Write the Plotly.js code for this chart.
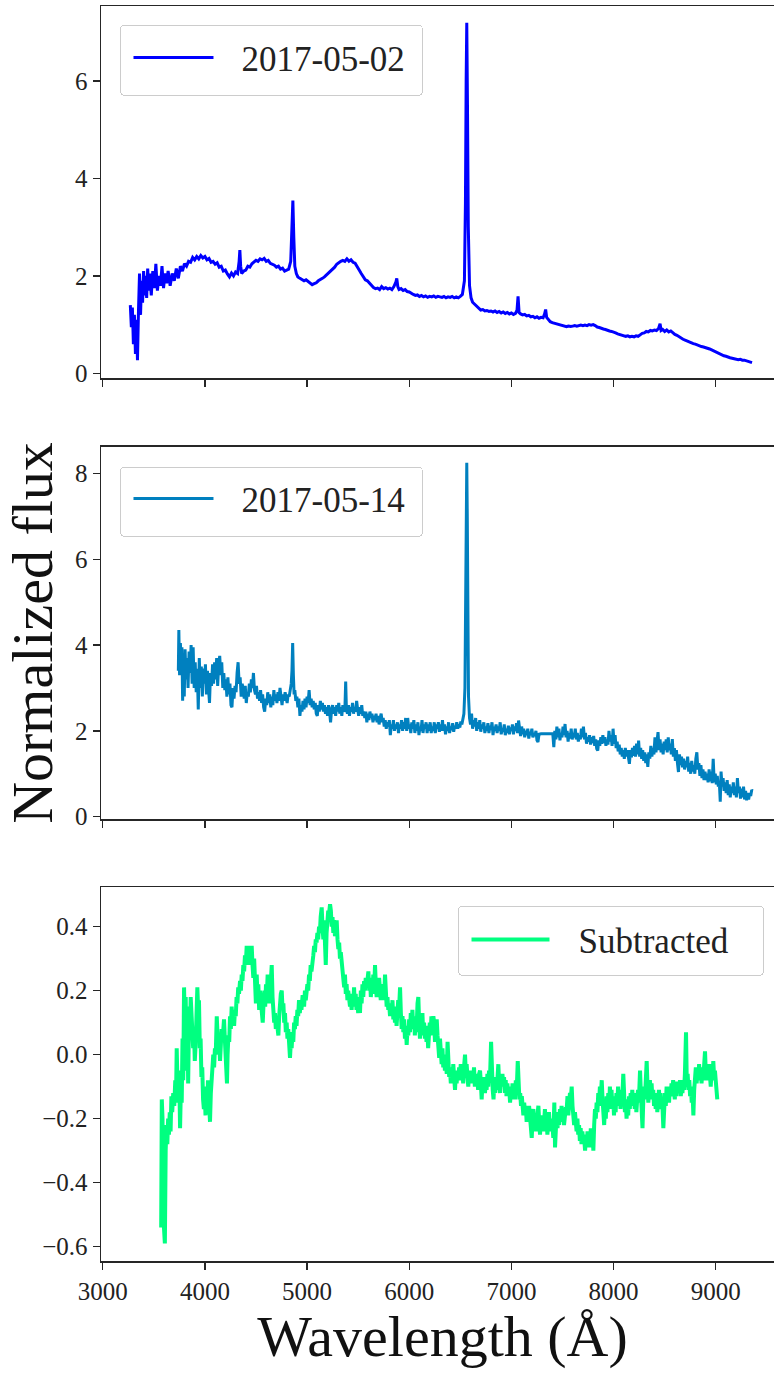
<!DOCTYPE html>
<html>
<head>
<meta charset="utf-8">
<script src="https://cdn.plot.ly/plotly-3.0.1.min.js"></script>
<style>
html,body{margin:0;padding:0;background:#fff;width:774px;height:1373px;overflow:hidden;}
#chart{width:784px;height:1373px;}
</style>
</head>
<body>
<div id="chart"></div>
<script>
// ---------- Data ----------
var seriesNames = ["2017-05-02", "2017-05-14", "Subtracted"];

// Spectrum 2017-05-02 : wavelength (Angstrom) / normalized flux
var wave1 = [3270,3280,3290,3300,3310,3320,3330,3340,3350,3360,3370,3380,3390,3400,3410,3420,3430,3440,3450,3460,3475,3490,3505,3520,3535,3550,3565,3580,3595,3610,3625,3640,3660,3680,3700,3720,3740,3760,3780,3800,3820,3840,3860,3880,3900,3920,3940,3960,3980,4000,4020,4040,4060,4080,4100,4120,4140,4160,4180,4200,4220,4240,4260,4280,4300,4320,4335,4342,4350,4360,4380,4400,4420,4440,4460,4480,4500,4520,4540,4560,4580,4600,4620,4640,4660,4680,4700,4720,4740,4760,4780,4800,4820,4840,4852,4861,4870,4880,4895,4910,4930,4950,4970,4990,5010,5030,5050,5070,5090,5110,5130,5150,5170,5190,5210,5230,5250,5270,5290,5310,5330,5350,5370,5390,5410,5430,5450,5470,5490,5510,5530,5550,5570,5590,5610,5630,5650,5670,5690,5710,5730,5750,5770,5790,5810,5830,5850,5870,5878,5888,5900,5920,5940,5960,5980,6000,6020,6040,6060,6080,6100,6120,6140,6160,6180,6200,6220,6240,6260,6280,6300,6320,6340,6360,6380,6400,6420,6440,6460,6480,6500,6520,6540,6550,6557,6563,6570,6578,6590,6605,6620,6640,6660,6680,6700,6720,6740,6760,6780,6800,6820,6840,6860,6880,6900,6920,6940,6960,6980,7000,7020,7040,7055,7065,7075,7090,7110,7130,7150,7170,7190,7210,7230,7250,7270,7290,7310,7325,7335,7345,7360,7380,7400,7420,7440,7460,7480,7500,7520,7540,7560,7580,7600,7620,7640,7660,7680,7700,7720,7740,7760,7780,7800,7820,7840,7860,7880,7900,7920,7940,7960,7980,8000,8020,8040,8060,8080,8100,8120,8140,8160,8180,8200,8220,8240,8260,8280,8300,8320,8340,8360,8380,8400,8420,8440,8455,8465,8480,8500,8520,8540,8560,8580,8600,8620,8640,8660,8680,8700,8720,8740,8760,8780,8800,8820,8840,8860,8880,8900,8920,8940,8960,8980,9000,9020,9040,9060,9080,9100,9120,9140,9160,9180,9200,9220,9240,9260,9280,9300,9320,9340,9355];
var flux1 = [1.40,0.95,1.35,0.60,1.20,0.40,1.10,0.27,1.30,2.05,1.20,1.90,1.45,2.10,1.60,2.00,1.55,2.15,1.70,2.05,1.60,2.10,1.75,2.25,1.70,2.00,1.80,2.20,1.75,2.05,1.85,2.10,1.80,2.05,1.90,2.15,1.95,2.20,2.10,2.25,2.20,2.30,2.28,2.38,2.33,2.40,2.35,2.42,2.37,2.40,2.33,2.36,2.28,2.30,2.24,2.27,2.18,2.20,2.10,2.12,2.04,1.98,2.06,2.00,2.08,2.05,2.30,2.53,2.20,2.05,2.10,2.12,2.20,2.18,2.25,2.28,2.32,2.30,2.35,2.33,2.36,2.30,2.32,2.26,2.24,2.22,2.18,2.20,2.14,2.16,2.10,2.12,2.14,2.30,2.90,3.55,2.80,2.20,2.05,1.98,1.95,1.93,1.90,1.92,1.88,1.86,1.82,1.84,1.86,1.90,1.92,1.95,1.98,2.02,2.05,2.08,2.12,2.18,2.24,2.28,2.30,2.32,2.30,2.35,2.30,2.33,2.28,2.26,2.20,2.12,2.05,1.98,1.92,1.90,1.85,1.80,1.76,1.74,1.75,1.72,1.78,1.74,1.76,1.73,1.75,1.72,1.78,1.88,1.95,1.78,1.72,1.74,1.70,1.72,1.68,1.67,1.64,1.62,1.60,1.61,1.58,1.60,1.57,1.59,1.56,1.58,1.57,1.59,1.56,1.58,1.57,1.56,1.58,1.55,1.57,1.56,1.58,1.55,1.57,1.55,1.58,1.62,1.90,3.50,6.00,7.20,5.50,3.00,1.80,1.55,1.46,1.42,1.38,1.32,1.30,1.31,1.28,1.29,1.27,1.28,1.26,1.28,1.25,1.27,1.24,1.26,1.23,1.25,1.22,1.24,1.21,1.23,1.30,1.58,1.25,1.22,1.20,1.21,1.18,1.19,1.16,1.17,1.14,1.16,1.13,1.15,1.14,1.22,1.31,1.15,1.10,1.06,1.04,1.03,1.02,1.00,0.99,0.98,0.98,0.96,0.97,0.96,0.97,0.98,0.97,0.98,0.99,0.98,0.99,0.98,1.00,0.99,1.00,0.98,0.95,0.94,0.92,0.91,0.90,0.88,0.87,0.86,0.85,0.83,0.81,0.80,0.78,0.78,0.76,0.77,0.75,0.76,0.75,0.77,0.76,0.79,0.82,0.83,0.86,0.85,0.88,0.87,0.89,0.88,0.92,1.02,0.88,0.90,0.86,0.89,0.85,0.87,0.83,0.80,0.78,0.75,0.72,0.70,0.68,0.66,0.65,0.63,0.61,0.60,0.58,0.57,0.55,0.54,0.53,0.52,0.50,0.48,0.46,0.44,0.41,0.40,0.38,0.36,0.35,0.33,0.32,0.31,0.30,0.30,0.28,0.29,0.27,0.27,0.26,0.25,0.24,0.22];

// Spectrum 2017-05-14
var wave2 = [3740,3745,3752,3760,3768,3775,3782,3790,3798,3806,3815,3825,3835,3845,3855,3865,3875,3885,3895,3905,3915,3925,3935,3945,3955,3965,3975,3985,3995,4005,4015,4025,4035,4045,4055,4065,4075,4085,4095,4105,4115,4125,4135,4145,4155,4165,4175,4185,4195,4205,4215,4225,4235,4245,4255,4265,4275,4285,4295,4305,4315,4325,4335,4345,4355,4365,4375,4385,4395,4405,4415,4425,4435,4445,4455,4465,4475,4485,4495,4505,4515,4525,4535,4545,4555,4565,4575,4585,4595,4605,4615,4625,4635,4645,4655,4665,4675,4685,4695,4705,4715,4725,4735,4745,4755,4765,4775,4785,4795,4805,4815,4825,4835,4845,4852,4859,4866,4873,4880,4890,4900,4910,4920,4930,4940,4950,4960,4970,4980,4990,5000,5010,5020,5030,5040,5050,5060,5070,5080,5090,5100,5110,5120,5130,5140,5150,5160,5170,5180,5190,5200,5210,5220,5230,5240,5250,5260,5270,5280,5290,5300,5310,5320,5330,5340,5350,5360,5370,5378,5385,5395,5405,5415,5425,5435,5445,5455,5465,5475,5485,5495,5505,5515,5525,5535,5545,5555,5565,5575,5585,5595,5605,5615,5625,5635,5645,5655,5665,5675,5685,5695,5705,5715,5725,5735,5745,5755,5765,5775,5785,5795,5805,5815,5825,5835,5845,5855,5865,5875,5885,5895,5905,5915,5925,5935,5945,5955,5965,5975,5985,5995,6005,6015,6025,6035,6045,6055,6065,6075,6085,6095,6105,6115,6125,6135,6145,6155,6165,6175,6185,6195,6205,6215,6225,6235,6245,6255,6265,6275,6285,6295,6305,6315,6325,6335,6345,6355,6365,6375,6385,6395,6405,6415,6425,6435,6445,6455,6465,6475,6485,6495,6505,6515,6525,6535,6545,6552,6558,6563,6568,6574,6580,6590,6600,6610,6620,6630,6640,6650,6660,6670,6680,6690,6700,6710,6720,6730,6740,6750,6760,6770,6780,6790,6800,6810,6820,6830,6840,6850,6860,6870,6880,6890,6900,6910,6920,6930,6940,6950,6960,6970,6980,6990,7000,7010,7020,7030,7040,7050,7060,7070,7080,7090,7100,7110,7120,7130,7140,7150,7160,7170,7180,7190,7200,7210,7220,7230,7240,7250,7260,7270,7290,7320,7350,7380,7405,7415,7425,7435,7445,7455,7465,7475,7485,7495,7505,7515,7525,7535,7545,7555,7565,7575,7585,7595,7605,7615,7625,7635,7645,7655,7665,7675,7685,7695,7705,7715,7725,7735,7745,7755,7765,7775,7785,7795,7805,7815,7825,7835,7845,7855,7865,7875,7885,7895,7905,7915,7925,7935,7945,7955,7965,7975,7985,7995,8005,8015,8025,8035,8045,8055,8065,8075,8085,8095,8105,8115,8125,8135,8145,8155,8165,8175,8185,8195,8205,8215,8225,8235,8245,8255,8265,8275,8285,8295,8305,8315,8325,8335,8345,8355,8365,8375,8385,8395,8405,8415,8425,8435,8445,8455,8465,8475,8485,8495,8505,8515,8525,8535,8545,8555,8565,8575,8585,8595,8605,8615,8625,8635,8645,8655,8665,8675,8685,8695,8705,8715,8725,8735,8745,8755,8765,8775,8785,8795,8805,8815,8825,8835,8845,8855,8865,8875,8885,8895,8905,8915,8925,8935,8945,8955,8965,8975,8985,8995,9005,9015,9025,9035,9044,9052,9062,9072,9082,9092,9102,9112,9122,9132,9142,9152,9162,9172,9182,9192,9202,9212,9222,9232,9242,9252,9262,9272,9282,9292,9302,9312,9322,9332,9342,9352,9360];
var flux2 = [3.40,4.35,3.30,4.05,3.55,3.95,2.70,3.60,2.80,3.90,3.20,3.70,3.00,3.85,3.35,4.00,3.10,3.95,3.00,3.60,2.90,3.45,2.50,3.70,3.00,3.50,2.80,3.45,3.10,3.55,2.85,3.40,3.00,2.65,3.35,3.05,3.55,3.10,3.60,3.20,3.70,3.05,3.55,3.75,3.30,3.60,3.00,3.35,2.95,3.20,2.80,3.25,2.85,3.10,2.60,2.55,3.00,2.75,3.05,2.90,3.35,3.60,3.10,3.25,2.80,3.10,2.95,2.75,3.05,2.65,2.90,2.80,3.10,2.90,3.20,3.00,3.35,2.95,2.85,3.05,2.75,2.90,2.70,2.95,2.65,2.85,2.55,2.45,2.75,2.60,2.90,2.65,2.85,2.55,2.80,2.60,2.95,2.70,2.85,2.65,2.90,2.70,3.00,2.75,2.60,2.85,2.70,2.90,2.75,2.65,2.85,2.80,2.95,3.10,3.40,4.05,3.30,2.85,2.95,2.70,2.80,2.55,2.75,2.35,2.60,2.45,2.70,2.50,2.75,2.55,2.80,2.65,2.95,2.60,2.75,2.55,2.70,2.50,2.65,2.40,2.35,2.60,2.45,2.70,2.50,2.65,2.45,2.60,2.40,2.55,2.35,2.60,2.45,2.20,2.50,2.60,2.40,2.55,2.35,2.60,2.45,2.65,2.40,2.55,2.35,2.60,2.45,2.50,3.15,2.50,2.40,2.60,2.35,2.55,2.45,2.65,2.40,2.55,2.45,2.70,2.50,2.35,2.55,2.40,2.60,2.35,2.45,2.30,2.45,2.20,2.40,2.25,2.45,2.30,2.40,2.20,2.35,2.25,2.40,2.20,2.35,2.15,2.30,2.40,2.20,2.30,2.10,2.25,2.05,2.20,2.10,2.25,1.90,2.15,2.05,2.25,2.00,2.15,2.05,2.20,1.95,2.15,2.05,2.25,2.00,2.20,2.05,2.30,2.00,2.30,2.05,2.15,1.95,2.20,2.05,2.25,1.95,2.15,2.00,2.20,1.90,2.10,2.00,2.25,1.95,2.15,2.05,2.20,1.95,2.15,2.00,2.20,1.95,2.10,2.00,2.20,1.95,2.15,2.05,2.20,1.98,2.15,2.00,2.25,2.00,2.15,1.92,2.10,2.00,2.20,1.95,2.10,2.02,2.18,1.98,2.12,2.05,2.20,2.05,2.15,2.08,2.22,2.15,2.25,2.40,3.00,5.00,7.50,8.25,7.00,4.50,2.80,2.30,2.15,2.40,2.05,2.25,2.10,2.30,2.00,2.20,2.05,2.25,1.98,2.15,2.05,2.20,1.95,2.10,2.00,2.18,1.95,2.12,2.02,2.20,1.90,2.10,2.00,2.15,1.95,2.10,2.00,2.20,1.92,2.05,1.98,2.15,1.90,2.05,1.95,2.12,1.92,2.08,2.00,2.15,1.92,2.10,2.00,2.18,1.95,2.24,2.05,1.88,2.10,1.92,2.05,1.85,2.00,1.90,2.05,1.82,1.98,1.90,2.05,1.85,1.95,1.88,2.00,1.78,1.74,1.92,1.93,1.93,1.93,1.93,1.93,1.62,2.00,1.80,2.10,1.85,2.05,1.78,1.95,1.85,2.10,1.90,2.16,1.85,2.00,1.75,1.95,1.82,2.05,1.80,1.95,1.85,2.05,1.80,1.95,1.75,1.90,1.80,2.05,1.85,2.10,1.80,1.95,1.70,1.85,1.75,1.90,1.68,1.85,1.72,1.88,1.65,1.80,1.58,1.54,1.78,1.65,1.85,1.70,1.90,1.72,1.85,1.65,1.80,1.68,2.00,1.75,1.90,1.65,2.05,1.70,1.90,1.60,1.75,1.52,1.68,1.45,1.60,1.40,1.55,1.35,1.60,1.40,1.55,1.30,1.23,1.55,1.38,1.60,1.42,1.65,1.40,1.70,1.45,1.77,1.40,1.60,1.35,1.55,1.30,1.50,1.25,1.45,1.16,1.50,1.35,1.65,1.40,1.60,1.45,1.85,1.50,1.75,1.97,1.55,1.80,1.50,1.70,1.45,1.75,1.55,1.80,1.50,1.85,1.55,1.70,1.45,1.81,1.40,1.60,1.30,1.55,1.25,1.04,1.45,1.20,1.40,1.15,1.35,1.10,1.30,1.15,1.40,1.05,1.25,1.00,1.30,1.05,1.20,1.00,1.35,1.50,1.10,1.25,0.95,1.20,0.90,1.10,0.85,1.05,0.85,1.00,0.80,1.10,0.82,1.05,0.78,1.35,0.80,1.00,0.75,0.95,0.70,0.80,0.35,1.05,0.70,0.90,0.60,0.80,0.55,0.85,0.50,0.75,0.45,0.70,0.55,0.80,0.50,0.70,0.45,0.90,0.55,0.70,0.42,0.65,0.45,0.70,0.40,0.60,0.38,0.55,0.40,0.55,0.48,0.62,0.60];

// Subtracted spectrum
var wave3 = [3572,3578,3585,3592,3600,3608,3616,3624,3632,3640,3648,3656,3664,3672,3680,3690,3700,3710,3718,3724,3732,3740,3748,3757,3765,3773,3781,3788,3796,3804,3812,3820,3828,3836,3845,3853,3861,3869,3877,3885,3893,3901,3909,3917,3926,3934,3942,3950,3958,3966,3974,3982,3990,3998,4006,4014,4022,4030,4040,4050,4058,4066,4074,4082,4090,4098,4106,4116,4124,4132,4140,4148,4156,4164,4172,4180,4187,4195,4203,4210,4216,4222,4230,4238,4246,4254,4262,4270,4278,4286,4294,4302,4310,4318,4326,4334,4344,4352,4360,4368,4376,4384,4392,4400,4409,4417,4425,4433,4441,4449,4458,4466,4474,4482,4491,4499,4507,4515,4523,4531,4539,4547,4555,4566,4574,4582,4590,4598,4606,4614,4622,4630,4638,4646,4654,4662,4670,4678,4686,4694,4702,4710,4719,4727,4735,4743,4752,4760,4768,4776,4784,4792,4800,4808,4816,4824,4833,4841,4849,4857,4865,4873,4881,4889,4897,4905,4913,4921,4929,4937,4945,4955,4963,4971,4979,4987,4995,5003,5011,5019,5027,5035,5043,5051,5061,5069,5077,5085,5093,5101,5109,5117,5125,5133,5143,5151,5159,5167,5175,5183,5191,5199,5207,5215,5225,5233,5241,5249,5257,5265,5273,5281,5290,5298,5306,5314,5322,5330,5339,5347,5355,5363,5371,5379,5387,5395,5403,5411,5420,5428,5436,5444,5452,5460,5468,5476,5484,5492,5500,5508,5518,5526,5534,5542,5550,5558,5566,5574,5582,5590,5600,5608,5616,5624,5632,5640,5648,5656,5665,5673,5681,5689,5697,5705,5713,5721,5729,5737,5745,5753,5763,5771,5779,5787,5795,5803,5812,5820,5828,5836,5844,5852,5860,5868,5876,5884,5892,5900,5910,5918,5926,5934,5942,5950,5958,5966,5975,5983,5991,5999,6007,6015,6023,6031,6039,6047,6055,6063,6071,6081,6089,6097,6105,6113,6121,6129,6137,6145,6153,6161,6169,6177,6185,6193,6201,6209,6217,6225,6236,6244,6252,6260,6269,6277,6285,6293,6301,6309,6317,6325,6333,6341,6349,6357,6367,6375,6383,6391,6399,6407,6415,6423,6431,6439,6448,6456,6464,6472,6480,6488,6496,6504,6512,6520,6528,6536,6546,6554,6562,6570,6578,6586,6594,6602,6610,6618,6626,6634,6642,6650,6658,6666,6674,6684,6693,6701,6709,6717,6725,6733,6741,6749,6757,6765,6773,6781,6790,6801,6809,6817,6825,6833,6841,6849,6857,6865,6872,6880,6888,6896,6904,6912,6920,6928,6936,6944,6952,6960,6968,6977,6987,6995,7003,7011,7019,7027,7035,7043,7051,7062,7070,7078,7086,7094,7102,7110,7117,7125,7133,7141,7149,7157,7165,7173,7181,7189,7199,7207,7215,7223,7231,7239,7247,7255,7264,7272,7280,7288,7296,7304,7312,7320,7328,7336,7344,7352,7360,7368,7376,7384,7392,7400,7410,7420,7427,7435,7443,7451,7459,7467,7475,7483,7491,7499,7507,7515,7523,7531,7541,7549,7557,7565,7573,7581,7590,7598,7606,7614,7622,7630,7638,7646,7654,7662,7670,7678,7686,7694,7702,7710,7721,7729,7737,7745,7753,7761,7769,7777,7785,7793,7802,7810,7818,7826,7834,7842,7850,7858,7866,7874,7884,7892,7900,7908,7916,7924,7932,7940,7948,7956,7964,7972,7980,7988,7996,8004,8012,8020,8028,8036,8044,8052,8060,8068,8076,8084,8095,8103,8111,8119,8127,8135,8143,8151,8159,8167,8175,8183,8191,8199,8207,8215,8223,8231,8239,8247,8259,8267,8275,8283,8291,8299,8307,8315,8324,8332,8340,8348,8356,8364,8372,8380,8388,8396,8404,8412,8420,8428,8436,8444,8452,8460,8468,8476,8487,8495,8503,8511,8519,8527,8535,8543,8551,8559,8567,8575,8583,8591,8599,8607,8615,8623,8634,8642,8650,8658,8666,8674,8682,8690,8698,8709,8717,8725,8733,8741,8749,8757,8765,8773,8781,8789,8797,8805,8813,8821,8829,8837,8845,8853,8861,8869,8877,8885,8895,8903,8911,8919,8927,8935,8943,8951,8959,8967,8976,8984,8992,9000,9008,9015];
var flux3 = [-0.54,-0.14,-0.20,-0.50,-0.55,-0.59,-0.30,-0.22,-0.28,-0.20,-0.25,-0.18,-0.24,-0.13,-0.18,-0.12,-0.16,-0.08,-0.12,0.02,-0.10,-0.15,-0.05,-0.23,-0.10,-0.15,0.05,-0.08,0.21,0.08,0.18,-0.05,0.15,-0.09,0.12,0.05,0.18,0.12,0.05,0.02,0.08,-0.02,0.03,0.15,0.21,0.14,0.17,0.02,0.05,-0.07,-0.04,-0.14,-0.17,-0.12,-0.19,-0.10,-0.18,-0.08,-0.20,-0.21,-0.12,-0.06,-0.02,0.00,-0.04,0.02,0.00,0.12,0.06,0.02,0.05,-0.02,0.03,0.08,0.04,0.09,0.11,0.05,-0.02,-0.08,-0.09,0.00,0.06,0.04,0.12,0.08,0.15,0.10,0.13,0.09,0.14,0.12,0.18,0.16,0.21,0.19,0.23,0.20,0.25,0.23,0.28,0.26,0.31,0.28,0.34,0.30,0.33,0.28,0.34,0.30,0.34,0.28,0.24,0.30,0.21,0.16,0.25,0.18,0.22,0.14,0.20,0.16,0.12,0.10,0.16,0.20,0.15,0.22,0.18,0.25,0.20,0.16,0.19,0.24,0.28,0.18,0.14,0.10,0.13,0.08,0.11,0.07,0.06,0.12,0.17,0.19,0.20,0.14,0.16,0.10,0.13,0.07,0.10,0.05,0.08,0.03,-0.01,0.04,0.02,0.07,0.04,0.10,0.08,0.12,0.09,0.14,0.12,0.17,0.13,0.16,0.14,0.18,0.18,0.15,0.20,0.17,0.19,0.22,0.20,0.25,0.23,0.28,0.26,0.30,0.31,0.34,0.32,0.36,0.35,0.38,0.36,0.40,0.38,0.43,0.46,0.40,0.36,0.42,0.32,0.28,0.38,0.42,0.45,0.44,0.47,0.45,0.40,0.43,0.38,0.42,0.37,0.40,0.42,0.36,0.33,0.35,0.30,0.32,0.29,0.26,0.24,0.21,0.25,0.19,0.22,0.17,0.20,0.15,0.15,0.18,0.14,0.19,0.16,0.21,0.15,0.19,0.14,0.17,0.13,0.18,0.13,0.20,0.16,0.22,0.18,0.23,0.20,0.24,0.21,0.23,0.26,0.20,0.24,0.18,0.22,0.19,0.25,0.20,0.28,0.22,0.18,0.23,0.19,0.24,0.20,0.17,0.22,0.18,0.21,0.17,0.25,0.19,0.15,0.18,0.14,0.16,0.12,0.16,0.13,0.17,0.11,0.15,0.10,0.14,0.09,0.13,0.17,0.14,0.21,0.13,0.08,0.12,0.07,0.11,0.05,0.09,0.03,0.08,0.06,0.11,0.07,0.13,0.09,0.14,0.08,0.12,0.06,0.11,0.07,0.16,0.18,0.10,0.05,0.12,0.08,0.13,0.06,0.10,0.05,0.09,0.04,0.08,0.02,0.06,0.10,0.06,0.12,0.08,0.12,0.10,0.04,0.08,0.11,0.06,0.03,-0.01,0.05,0.01,-0.03,0.02,-0.04,0.00,-0.05,-0.02,-0.06,0.04,-0.03,-0.07,-0.05,-0.09,-0.04,-0.08,-0.03,-0.07,-0.11,-0.06,-0.09,-0.05,-0.08,-0.04,-0.07,-0.03,-0.08,-0.05,-0.09,-0.04,0.00,-0.06,-0.03,-0.07,-0.10,-0.05,-0.08,-0.06,-0.09,-0.05,-0.08,-0.04,-0.10,-0.06,-0.09,-0.07,-0.11,-0.06,-0.05,-0.09,-0.14,-0.08,-0.11,-0.07,-0.12,-0.09,-0.11,-0.06,-0.10,-0.05,-0.08,0.04,-0.07,-0.11,-0.14,-0.08,-0.12,-0.07,-0.11,-0.05,-0.03,-0.09,-0.12,-0.07,-0.10,-0.06,-0.09,-0.07,-0.12,-0.08,-0.13,-0.09,-0.12,-0.10,-0.15,-0.11,-0.14,-0.09,-0.13,-0.10,-0.14,-0.08,-0.12,-0.02,-0.10,-0.14,-0.12,-0.16,-0.13,-0.17,-0.19,-0.15,-0.18,-0.16,-0.21,-0.17,-0.20,-0.16,-0.19,-0.23,-0.26,-0.20,-0.17,-0.22,-0.19,-0.24,-0.20,-0.18,-0.16,-0.21,-0.25,-0.20,-0.23,-0.19,-0.24,-0.21,-0.17,-0.23,-0.20,-0.25,-0.22,-0.18,-0.23,-0.20,-0.24,-0.21,-0.26,-0.15,-0.29,-0.22,-0.18,-0.23,-0.19,-0.22,-0.17,-0.20,-0.16,-0.21,-0.18,-0.22,-0.19,-0.17,-0.17,-0.13,-0.19,-0.15,-0.12,-0.14,-0.10,-0.16,-0.19,-0.22,-0.18,-0.21,-0.24,-0.20,-0.25,-0.22,-0.27,-0.23,-0.28,-0.24,-0.27,-0.25,-0.30,-0.26,-0.29,-0.24,-0.28,-0.25,-0.29,-0.23,-0.27,-0.24,-0.30,-0.22,-0.17,-0.20,-0.15,-0.18,-0.12,-0.16,-0.10,-0.14,-0.08,-0.14,-0.18,-0.22,-0.16,-0.20,-0.13,-0.18,-0.12,-0.17,-0.10,-0.15,-0.11,-0.17,-0.13,-0.19,-0.14,-0.18,-0.12,-0.16,-0.10,-0.15,-0.11,-0.17,-0.12,-0.15,-0.06,-0.13,-0.18,-0.14,-0.20,-0.15,-0.19,-0.13,-0.17,-0.12,-0.16,-0.11,-0.15,-0.12,-0.17,-0.13,-0.18,-0.14,-0.11,-0.15,-0.05,-0.12,-0.17,-0.23,-0.14,-0.10,-0.14,-0.09,-0.02,-0.10,-0.15,-0.11,-0.08,-0.13,-0.09,-0.14,-0.11,-0.16,-0.12,-0.17,-0.13,-0.18,-0.14,-0.11,-0.15,-0.12,-0.17,-0.14,-0.23,-0.15,-0.12,-0.16,-0.10,-0.14,-0.11,-0.15,-0.10,-0.13,-0.09,-0.12,-0.08,-0.11,-0.14,-0.10,-0.13,-0.09,-0.09,-0.12,-0.08,-0.13,-0.09,-0.12,-0.08,-0.11,-0.06,0.07,-0.10,-0.06,-0.11,-0.08,-0.13,-0.10,-0.15,-0.12,-0.19,-0.11,-0.07,-0.04,-0.09,-0.05,-0.08,-0.03,-0.07,-0.04,-0.09,-0.05,-0.08,-0.03,0.01,-0.06,-0.08,-0.04,-0.07,-0.03,-0.06,-0.10,-0.05,-0.08,-0.02,-0.07,-0.05,-0.09,-0.11,-0.14];

var seriesColors = ["#0000ff", "#0080bf", "#00ff80"];
var xTicks = [3000, 4000, 5000, 6000, 7000, 8000, 9000];
var yTicksTop = [0, 2, 4, 6];
var yTicksMid = [0, 2, 4, 6, 8];
var yTicksBot = [-0.6, -0.4, -0.2, 0.0, 0.2, 0.4];

// ---------- Chart ----------
var FONT = '"Liberation Serif", "DejaVu Serif", "Times New Roman", serif';
var traces = [
  {x: wave1, y: flux1, name: seriesNames[0], type: 'scatter', mode: 'lines',
   line: {color: seriesColors[0], width: 3}, xaxis: 'x', yaxis: 'y', legend: 'legend'},
  {x: wave2, y: flux2, name: seriesNames[1], type: 'scatter', mode: 'lines',
   line: {color: seriesColors[1], width: 3}, xaxis: 'x2', yaxis: 'y2', legend: 'legend2'},
  {x: wave3, y: flux3, name: seriesNames[2], type: 'scatter', mode: 'lines',
   line: {color: seriesColors[2], width: 4}, xaxis: 'x3', yaxis: 'y3', legend: 'legend3'}
];

var axisCommon = {
  showline: true, mirror: true, linecolor: '#262626', linewidth: 1.5,
  ticks: 'outside', ticklen: 7, tickwidth: 1.3, tickcolor: '#262626',
  showgrid: false, zeroline: false,
  tickfont: {family: FONT, size: 25, color: '#222'}
};
function ax(extra) { var o = {}; for (var k in axisCommon) o[k] = axisCommon[k]; for (var k2 in extra) o[k2] = extra[k2]; return o; }

var xr = [2983, 9668];
var legendCommon = {
  bgcolor: 'rgba(255,255,255,0.9)', bordercolor: '#cccccc', borderwidth: 1,
  font: {family: FONT, size: 35, color: '#222'},
  xanchor: 'left', yanchor: 'top', itemwidth: 80
};
function lg(extra) { var o = {}; for (var k in legendCommon) o[k] = legendCommon[k]; for (var k2 in extra) o[k2] = extra[k2]; return o; }

var layout = {
  width: 784, height: 1373,
  margin: {l: 101, r: 0, t: 6, b: 112},
  paper_bgcolor: '#ffffff', plot_bgcolor: '#ffffff',
  font: {family: FONT, color: '#222'},
  showlegend: true,
  xaxis: ax({domain: [0, 1], range: xr, anchor: 'y', tickvals: xTicks, showticklabels: false}),
  xaxis2: ax({domain: [0, 1], range: xr, anchor: 'y2', tickvals: xTicks, showticklabels: false}),
  xaxis3: ax({domain: [0, 1], range: xr, anchor: 'y3', tickvals: xTicks,
    title: {text: 'Wavelength (Å)', font: {family: FONT, size: 58, color: '#111'}, standoff: 12}}),
  yaxis: ax({domain: [0.7033, 1.0], range: [-0.103, 7.542], anchor: 'x', tickvals: yTicksTop}),
  yaxis2: ax({domain: [0.3520, 0.6488], range: [-0.061, 8.625], anchor: 'x2', tickvals: yTicksMid,
    title: {text: 'Normalized flux', font: {family: FONT, size: 58, color: '#111'}, standoff: 10}}),
  yaxis3: ax({domain: [0, 0.2978], range: [-0.645, 0.523], anchor: 'x3', tickvals: yTicksBot, tickformat: '.1f'}),
  legend: lg({x: 0.0278, y: 0.9849}),
  legend2: lg({x: 0.0278, y: 0.6327}),
  legend3: lg({x: 0.5227, y: 0.2829})
};

// Legend box geometry (matplotlib-like): box size, line sample offset/length, text offset, row offset
var legendBoxes = {
  legend:  {w: 302, h: 70, lineOff: 13, lineLen: 80, textOff: 121, rowOff: 32},
  legend2: {w: 302, h: 69, lineOff: 13, lineLen: 80, textOff: 121, rowOff: 31},
  legend3: {w: 305, h: 69, lineOff: 13, lineLen: 78, textOff: 120, rowOff: 33}
};

function styleLegendGroup(g, spec) {
  try {
    var bg = g.querySelector('rect.bg');
    var sb = g.querySelector('g.scrollbox');
    if (sb) sb.removeAttribute('clip-path');
    var bgR = bg.getBoundingClientRect();
    var left = bgR.left, top = bgR.top;
    bg.setAttribute('width', spec.w);
    bg.setAttribute('height', spec.h);
    bg.setAttribute('rx', 4); bg.setAttribute('ry', 4);
    var tr = g.querySelector('g.traces');
    if (!tr) return;
    var path = tr.querySelector('path.js-line');
    var txt = tr.querySelector('text');
    if (path) {
      var pR = path.getBoundingClientRect();
      var dy = (top + spec.rowOff) - (pR.top + pR.height / 2);
      var t = tr.getAttribute('transform') || 'translate(0,0)';
      var m = /translate\(\s*([-\d.e]+)(?:[\s,]+([-\d.e]+))?\s*\)/.exec(t);
      var tx0 = m ? parseFloat(m[1]) : 0, ty0 = (m && m[2]) ? parseFloat(m[2]) : 0;
      tr.setAttribute('transform', 'translate(' + tx0 + ',' + (ty0 + dy) + ')');
      pR = path.getBoundingClientRect();
      var d = path.getAttribute('d') || '';
      var mm = /M\s*([-\d.e]+)[\s,]+([-\d.e]+)/.exec(d);
      if (mm) {
        var x0 = parseFloat(mm[1]) + ((left + spec.lineOff) - pR.left);
        path.setAttribute('d', 'M' + x0 + ',' + mm[2] + 'h' + spec.lineLen);
      }
    }
    if (txt) {
      var tR = txt.getBoundingClientRect();
      var tx = parseFloat(txt.getAttribute('x')) || 0;
      txt.setAttribute('x', tx + ((left + spec.textOff) - tR.left));
    }
  } catch (e) { /* keep default legend */ }
}

function styleLegends(gd) {
  for (var id in legendBoxes) {
    var g = gd.querySelector('g.' + id);
    if (g) styleLegendGroup(g, legendBoxes[id]);
  }
}

Plotly.newPlot('chart', traces, layout, {staticPlot: true, displayModeBar: false}).then(function (gd) {
  styleLegends(gd);
});
</script>
</body>
</html>
